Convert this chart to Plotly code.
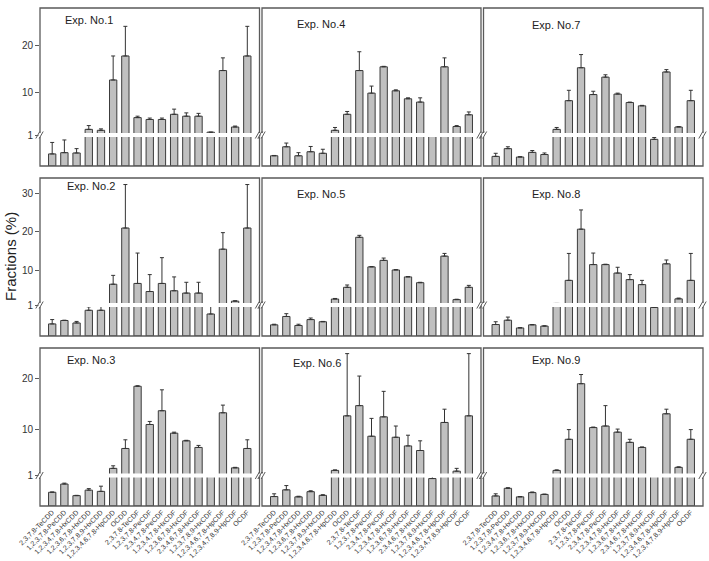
import plotly.graph_objects as go

categories = ["2,3,7,8-TeCDD", "1,2,3,7,8-PeCDD", "1,2,3,4,7,8-HxCDD", "1,2,3,6,7,8-HxCDD",
              "1,2,3,7,8,9-HxCDD", "1,2,3,4,6,7,8-HpCDD", "OCDD", "2,3,7,8-TeCDF",
              "1,2,3,7,8-PeCDF", "2,3,4,7,8-PeCDF", "1,2,3,4,7,8-HxCDF", "1,2,3,6,7,8-HxCDF",
              "2,3,4,6,7,8-HxCDF", "1,2,3,7,8,9-HxCDF", "1,2,3,4,6,7,8-HpCDF",
              "1,2,3,4,7,8,9-HpCDF", "OCDF"]

exp1_mean = [0.39, 0.43, 0.42, 2.2, 2.0, 12.7, 17.8, 4.7, 4.3, 4.3, 5.4, 5.0, 5.0, 1.6, 14.7, 2.7, 17.8]
exp1_sd = [0.37, 0.41, 0.14, 0.8, 0.3, 5.1, 6.3, 0.3, 0.3, 0.3, 1.1, 0.7, 0.6, 0.0, 2.7, 0.2, 6.3]
exp2_mean = [0.39, 0.50, 0.42, 0.83, 0.83, 6.4, 21.0, 6.6, 4.5, 6.6, 4.7, 4.1, 4.1, 0.71, 15.5, 2.0, 21.0]
exp2_sd = [0.14, 0.01, 0.05, 0.11, 0.14, 2.3, 11.3, 7.9, 4.4, 6.7, 3.6, 2.8, 2.8, 0.27, 4.3, 0.1, 11.3]
exp3_mean = [0.45, 0.72, 0.34, 0.52, 0.48, 2.4, 6.3, 18.5, 11.0, 13.7, 9.3, 7.8, 6.5, 0.97, 13.3, 2.5, 6.3]
exp3_sd = [0.01, 0.03, 0.01, 0.05, 0.17, 0.5, 1.7, 0.1, 0.6, 4.1, 0.2, 0.1, 0.4, 0.0, 1.5, 0.1, 1.7]
exp4_mean = [0.33, 0.62, 0.33, 0.46, 0.41, 2.0, 5.4, 14.7, 9.9, 15.5, 10.4, 8.7, 8.0, 0.97, 15.5, 2.8, 5.3]
exp4_sd = [0.01, 0.12, 0.10, 0.17, 0.13, 0.6, 0.6, 4.0, 1.5, 0.1, 0.2, 0.2, 0.9, 0.0, 1.9, 0.2, 0.6]
exp5_mean = [0.36, 0.63, 0.34, 0.53, 0.46, 2.55, 5.6, 18.6, 10.9, 12.6, 10.1, 8.3, 6.8, 0.96, 13.7, 2.4, 5.6]
exp5_sd = [0.02, 0.09, 0.04, 0.05, 0.01, 0.15, 0.6, 0.5, 0.1, 0.6, 0.1, 0.1, 0.1, 0.0, 0.7, 0.1, 0.5]
exp6_mean = [0.31, 0.53, 0.30, 0.47, 0.35, 2.0, 12.7, 14.7, 8.7, 12.5, 8.5, 6.8, 5.9, 0.90, 11.4, 1.85, 12.7]
exp6_sd = [0.09, 0.14, 0.02, 0.03, 0.02, 0.1, 12.2, 5.8, 3.5, 5.0, 2.2, 2.1, 1.9, 0.07, 2.6, 0.55, 12.2]
exp7_mean = [0.31, 0.56, 0.29, 0.44, 0.37, 2.2, 8.3, 15.3, 9.6, 13.3, 9.7, 7.9, 7.2, 0.86, 14.4, 2.7, 8.3]
exp7_sd = [0.10, 0.06, 0.01, 0.06, 0.05, 0.4, 2.2, 2.8, 0.7, 0.5, 0.2, 0.1, 0.1, 0.06, 0.5, 0.1, 2.2]
exp8_mean = [0.37, 0.51, 0.26, 0.36, 0.32, 1.4, 7.4, 20.7, 11.5, 11.5, 9.3, 7.6, 6.3, 0.92, 11.7, 2.6, 7.4]
exp8_sd = [0.09, 0.10, 0.01, 0.01, 0.01, 0.0, 7.0, 5.0, 3.0, 0.1, 1.5, 1.3, 1.1, 0.01, 1.0, 0.2, 7.0]
exp9_mean = [0.33, 0.58, 0.30, 0.44, 0.38, 2.0, 8.1, 19.0, 10.4, 10.7, 9.5, 7.5, 6.5, 0.98, 13.1, 2.6, 8.1]
exp9_sd = [0.07, 0.02, 0.01, 0.02, 0.01, 0.1, 1.9, 1.8, 0.1, 4.0, 0.6, 0.6, 0.1, 0.0, 0.9, 0.1, 1.9]

exp_labels = ["Exp. No.1", "Exp. No.2", "Exp. No.3", "Exp. No.4", "Exp. No.5",
              "Exp. No.6", "Exp. No.7", "Exp. No.8", "Exp. No.9"]
means = [exp1_mean, exp2_mean, exp3_mean, exp4_mean, exp5_mean, exp6_mean, exp7_mean, exp8_mean, exp9_mean]
sds = [exp1_sd, exp2_sd, exp3_sd, exp4_sd, exp5_sd, exp6_sd, exp7_sd, exp8_sd, exp9_sd]

row_ymax = [28, 34, 26]
row_ticks = [[1, 10, 20], [1, 10, 20, 30], [1, 10, 20]]
lower_range = [0, 1]

W, H = 709, 561
def fx(px):
    return px / W
def fy(py):
    return 1 - py / H

col_x = [(40, 259.5), (262, 481), (483.5, 703)]
rows = [(8, 166, 135), (178, 336, 305), (348, 506, 475.5)]
label_pos = [(89, 20), (91, 186), (91, 360), (321, 24), (321, 194), (317, 363),
             (556, 25), (556, 194), (556, 360)]

FONT = "Arial, Liberation Sans, sans-serif"
BAR_FILL = "#c0c0c0"
EDGE = "#3c3c3c"
FRAME = "#5a5a5a"

fig = go.Figure()
layout = {}
shapes = []
annotations = []

for c in range(3):
    for r in range(3):
        p = c * 3 + r
        x0, x1 = col_x[c]
        top, bottom, brk = rows[r]
        xa = "x" if p == 0 else f"x{p + 1}"
        ylo = "y" if p == 0 else f"y{2 * p + 1}"
        yhi = f"y{2 * p + 2}"
        for ya in (ylo, yhi):
            fig.add_trace(go.Bar(
                x=categories, y=means[p], xaxis=xa, yaxis=ya, width=0.6,
                marker=dict(color=BAR_FILL, line=dict(color=EDGE, width=1)),
                error_y=dict(type="data", array=sds[p], arrayminus=[0] * len(sds[p]),
                             symmetric=False, color="#333333", thickness=1, width=2),
                showlegend=False, hoverinfo="skip"))
        xkey = "xaxis" if p == 0 else f"xaxis{p + 1}"
        ylokey = "yaxis" if p == 0 else f"yaxis{2 * p + 1}"
        yhikey = f"yaxis{2 * p + 2}"
        layout[xkey] = dict(
            domain=[fx(x0), fx(x1)], anchor=ylo, type="category", range=[-1, 17],
            automargin=False,
            showgrid=False, zeroline=False, showline=False, ticks="",
            showticklabels=(r == 2), tickangle=-45,
            tickfont=dict(family=FONT, size=7, color="#333"))
        layout[ylokey] = dict(
            domain=[fy(bottom), fy(brk)], anchor=xa, range=lower_range, automargin=False,
            showgrid=False, zeroline=False, showline=False, ticks="", showticklabels=False)
        layout[yhikey] = dict(
            domain=[fy(brk), fy(top)], anchor=xa, range=[1, row_ymax[r]], automargin=False,
            showgrid=False, zeroline=False, showline=False,
            tickmode="array", tickvals=row_ticks[r],
            ticks="outside" if c == 0 else "", ticklen=4, tickcolor=FRAME,
            showticklabels=(c == 0),
            tickfont=dict(family=FONT, size=10, color="#333"))
        # panel frame
        shapes.append(dict(type="rect", xref="paper", yref="paper",
                           x0=fx(x0), x1=fx(x1), y0=fy(bottom), y1=fy(top),
                           line=dict(color=FRAME, width=1.3), fillcolor="rgba(0,0,0,0)"))
        # white break band
        shapes.append(dict(type="rect", xref="paper", yref="paper",
                           x0=fx(x0 - 1.5), x1=fx(x1 + 1.5), y0=fy(brk + 2), y1=fy(brk - 2),
                           line=dict(width=0), fillcolor="white"))
        # break marks
        for xs in (x0, x1):
            for dx in (-2.2, 1.2):
                shapes.append(dict(type="line", xref="paper", yref="paper",
                                   x0=fx(xs + dx - 2), y0=fy(brk + 3.5),
                                   x1=fx(xs + dx + 2), y1=fy(brk - 3.5),
                                   line=dict(color=FRAME, width=1)))
        lx, ly = label_pos[p]
        annotations.append(dict(text=exp_labels[p], xref="paper", yref="paper",
                                x=fx(lx), y=fy(ly), showarrow=False,
                                xanchor="center", yanchor="middle",
                                font=dict(family=FONT, size=11, color="#222")))

annotations.append(dict(text="Fractions (%)", xref="paper", yref="paper",
                        x=fx(10), y=fy(257), showarrow=False, textangle=-90,
                        xanchor="center", yanchor="middle",
                        font=dict(family=FONT, size=15, color="#222")))

fig.update_layout(
    width=W, height=H, margin=dict(l=0, r=0, t=0, b=0, autoexpand=False),
    paper_bgcolor="white", plot_bgcolor="white", barmode="overlay",
    shapes=shapes, annotations=annotations, **layout)

fig.write_html("out.html")
